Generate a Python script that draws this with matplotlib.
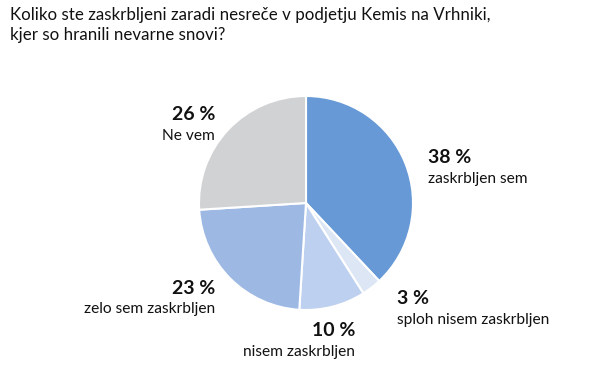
import matplotlib.pyplot as plt

plt.rcParams['font.family'] = ['Lato', 'DejaVu Sans']

# data
categories = ["zaskrbljen sem", "sploh nisem zaskrbljen", "nisem zaskrbljen",
              "zelo sem zaskrbljen", "Ne vem"]
values = [38, 3, 10, 23, 26]
colors = ["#6699d5", "#dce6f5", "#bdd0ef", "#9cb8e3", "#d1d2d4"]

title = "Koliko ste zaskrbljeni zaradi nesreče v podjetju Kemis na Vrhniki,\nkjer so hranili nevarne snovi?"

W, H = 600, 384
fig = plt.figure(figsize=(W / 100, H / 100), dpi=100)

# pie centre ~ (306, 203) px, radius ~107 px
cx, cy, r = 306, 203, 107
ax = fig.add_axes([(cx - r) / W, (H - cy - r) / H, 2 * r / W, 2 * r / H])
ax.pie(values, colors=colors, startangle=90, counterclock=False,
       radius=1, wedgeprops=dict(edgecolor="white", linewidth=1.5))
ax.set_xlim(-1, 1)
ax.set_ylim(-1, 1)
ax.axis("off")

fig.text(10 / W, 1 - 7 / H, title, ha="left", va="top", fontsize=12.2,
         linespacing=1.3, color="#111111")

# label anchors in pixels: (x, y of percent line, alignment)
label_pos = [(428, 158, "left"), (397, 299, "left"), (355, 331, "right"),
             (215, 288, "right"), (215, 115, "right")]

for cat, val, (px, py, ha) in zip(categories, values, label_pos):
    fig.text(px / W, 1 - py / H, f"{val} %", ha=ha, va="center",
             fontsize=14, fontweight="bold", color="#111111")
    fig.text(px / W, 1 - (py + 21) / H, cat, ha=ha, va="center",
             fontsize=11.2, color="#111111")

fig.savefig("out.png", dpi=100)
